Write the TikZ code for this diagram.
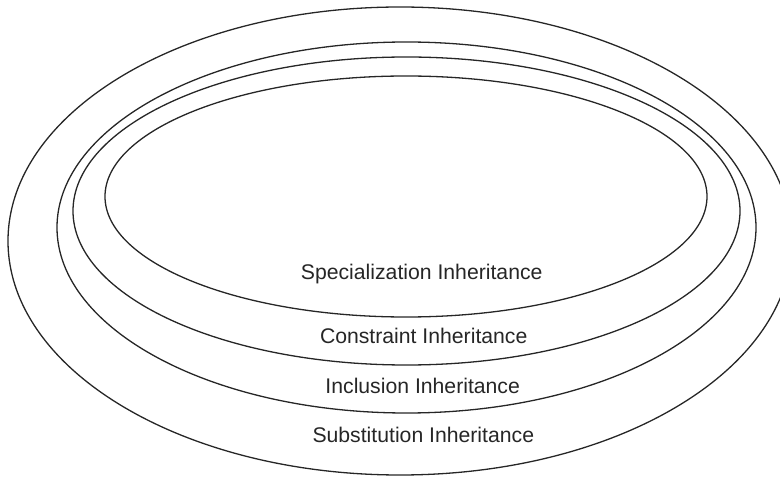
\documentclass[tikz,border=0pt]{standalone}
\usepackage{fontspec}
\setmainfont{Liberation Sans}
\begin{document}
\begin{tikzpicture}[x=1pt,y=-1pt,
  ring/.style={draw=black!85,line width=1.3pt},
  lbl/.style={anchor=base,inner sep=0pt,text=black!85,font=\fontsize{21.2}{25}\selectfont}]
\useasboundingbox (0,0) rectangle (780,478);
\clip (0,0) rectangle (780,478);
\draw[ring] (400,241) ellipse [x radius=392, y radius=234];
\draw[ring] (406.5,227.5) ellipse [x radius=349.5, y radius=185.5];
\draw[ring] (406.5,211) ellipse [x radius=333.5, y radius=154];
\draw[ring] (406,196.5) ellipse [x radius=301, y radius=120.5];
\node[lbl] (spec) at (421.7,280) {Specialization Inheritance};
\node[lbl] (cons) at (423.7,344) {Constraint Inheritance};
\node[lbl] (incl) at (422.7,394) {Inclusion Inheritance};
\node[lbl] (subs) at (423.3,443) {Substitution Inheritance};
\end{tikzpicture}
\end{document}
